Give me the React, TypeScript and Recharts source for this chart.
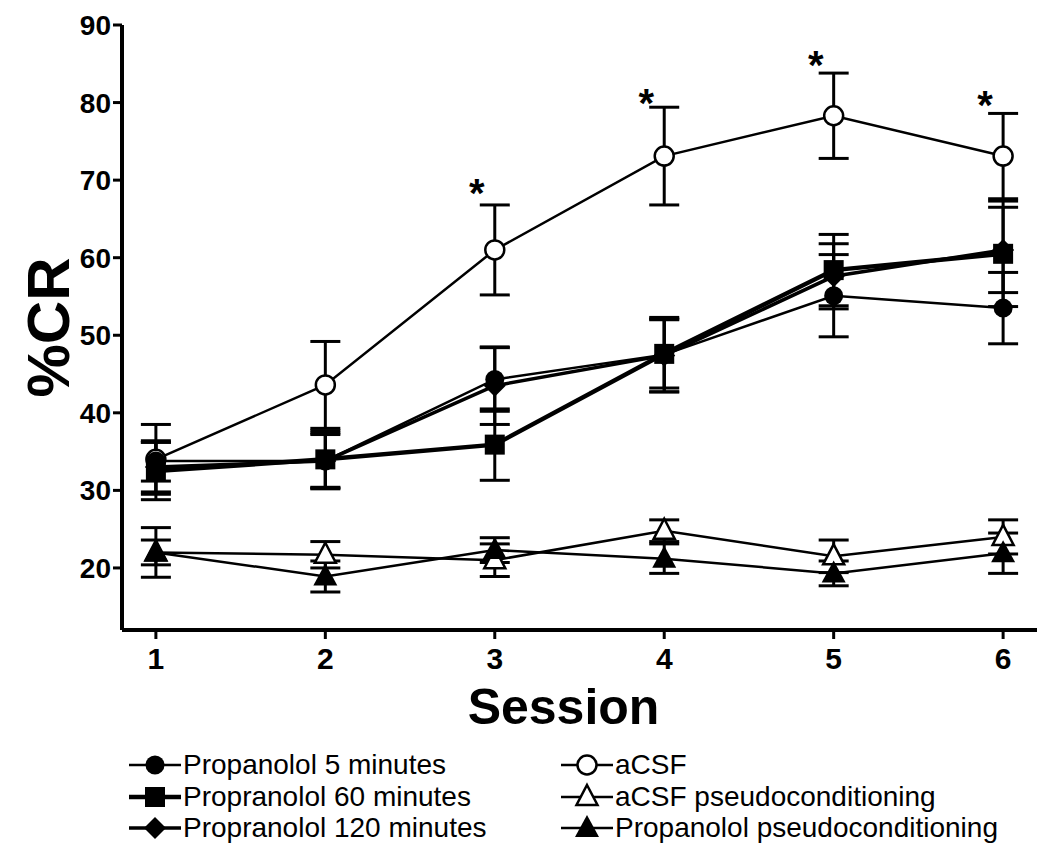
import React from 'react';
import { LineChart, Line, XAxis, YAxis, ErrorBar } from 'recharts';

// sessions on the x axis
const sessions = [1, 2, 3, 4, 5, 6];

// %CR means and error (SEM) per group
const acsf = [34.0, 43.6, 61.0, 73.1, 78.3, 73.1];
const acsfErr = [4.5, 5.6, 5.8, 6.3, 5.5, 5.5];
const prop5 = [33.8, 33.8, 44.3, 47.5, 55.1, 53.5];
const prop5Err = [2.6, 3.6, 4.1, 4.8, 5.3, 4.6];
const prop60 = [32.5, 34.0, 35.9, 47.6, 58.4, 60.5];
const prop60Err = [3.7, 3.7, 4.6, 4.4, 4.6, 6.8];
const prop120 = [33.0, 33.8, 43.5, 47.4, 57.6, 61.0];
const prop120Err = [3.2, 3.4, 5.0, 4.7, 4.2, 5.5];
const acsfPseudo = [22.0, 21.7, 21.0, 24.8, 21.5, 24.0];
const acsfPseudoErr = [1.6, 1.7, 2.1, 1.4, 2.1, 2.2];
const propPseudo = [22.0, 18.9, 22.3, 21.2, 19.3, 21.9];
const propPseudoErr = [3.2, 2.0, 1.6, 1.9, 1.6, 2.6];

// level of the significance asterisks (aCSF vs propranolol)
const starLevel = [null, null, 69.4, 81.0, 85.9, 80.7];

const yTicks = [20, 30, 40, 50, 60, 70, 80, 90];

const data = sessions.map((s, i) => ({
  session: s,
  acsf: acsf[i],
  acsfErr: acsfErr[i],
  prop5: prop5[i],
  prop5Err: prop5Err[i],
  prop60: prop60[i],
  prop60Err: prop60Err[i],
  prop120: prop120[i],
  prop120Err: prop120Err[i],
  acsfPseudo: acsfPseudo[i],
  acsfPseudoErr: acsfPseudoErr[i],
  propPseudo: propPseudo[i],
  propPseudoErr: propPseudoErr[i],
  star: starLevel[i],
}));

const FONT = '"Liberation Sans", Arial, sans-serif';

type Shape = 'circle' | 'openCircle' | 'square' | 'diamond' | 'openTriangle' | 'triangle';

const Marker = ({ shape, cx, cy }: { shape: Shape; cx: number; cy: number }) => {
  switch (shape) {
    case 'circle':
      return <circle cx={cx} cy={cy} r={9.5} fill="#000" />;
    case 'openCircle':
      return <circle cx={cx} cy={cy} r={9.5} fill="#fff" stroke="#000" strokeWidth={2.5} />;
    case 'square':
      return <rect x={cx - 10} y={cy - 10} width={20} height={20} fill="#000" />;
    case 'diamond':
      return <polygon points={`${cx},${cy - 11} ${cx + 11},${cy} ${cx},${cy + 11} ${cx - 11},${cy}`} fill="#000" />;
    case 'openTriangle':
      return (
        <polygon
          points={`${cx},${cy - 12} ${cx + 10.5},${cy + 8} ${cx - 10.5},${cy + 8}`}
          fill="#fff"
          stroke="#000"
          strokeWidth={2.5}
        />
      );
    case 'triangle':
      return <polygon points={`${cx},${cy - 13} ${cx + 12},${cy + 9} ${cx - 12},${cy + 9}`} fill="#000" />;
  }
  return null;
};

const dotFor = (shape: Shape) => (p: any) =>
  p.cx == null || p.cy == null ? (
    <g key={p.index} />
  ) : (
    <g key={p.index}>
      <Marker shape={shape} cx={p.cx} cy={p.cy} />
    </g>
  );

const renderStar = (p: any) =>
  p.value == null || p.cy == null ? (
    <g key={p.index} />
  ) : (
    <text
      key={p.index}
      x={p.cx - 18}
      y={p.cy + 22}
      textAnchor="middle"
      fontFamily={FONT}
      fontWeight="bold"
      fontSize={40}
      fill="#000"
    >
      *
    </text>
  );

const legendItems: { name: string; shape: Shape; line: number }[] = [
  { name: 'Propanolol 5 minutes', shape: 'circle', line: 2.5 },
  { name: 'Propranolol 60 minutes', shape: 'square', line: 4.5 },
  { name: 'Propranolol 120 minutes', shape: 'diamond', line: 3.5 },
  { name: 'aCSF', shape: 'openCircle', line: 2.5 },
  { name: 'aCSF pseudoconditioning', shape: 'openTriangle', line: 2.5 },
  { name: 'Propanolol pseudoconditioning', shape: 'triangle', line: 2.5 },
];

const YLabel = (props: any) => {
  const { viewBox } = props;
  const x = viewBox.x + 40;
  const y = viewBox.y + viewBox.height / 2;
  return (
    <text
      x={x}
      y={y}
      transform={`rotate(-90, ${x}, ${y})`}
      textAnchor="middle"
      dominantBaseline="central"
      fontFamily={FONT}
      fontWeight="bold"
      fontSize={60}
      fill="#000"
    >
      %CR
    </text>
  );
};

const errProps = { stroke: '#000', strokeWidth: 3, width: 15 };

export default function App() {
  return (
    <div style={{ position: 'relative', width: 1042, height: 858, fontFamily: FONT }}>
      <LineChart width={1042} height={858} data={data} margin={{ top: 17, right: 13, left: 0, bottom: 136 }}>
        <XAxis
          dataKey="session"
          type="number"
          domain={[0.8, 6.2]}
          ticks={sessions}
          height={100}
          tickSize={9}
          tickMargin={9}
          axisLine={{ stroke: '#000', strokeWidth: 4 }}
          tickLine={{ stroke: '#000', strokeWidth: 3 }}
          tick={{ fill: '#000', fontSize: 30, fontWeight: 'bold', fontFamily: '"Liberation Sans Narrow", "Liberation Sans", Arial' }}
          label={{
            value: 'Session',
            position: 'insideBottom',
            offset: 6,
            dx: -16,
            fill: '#000',
            fontSize: 50,
            fontWeight: 'bold',
            fontFamily: FONT,
          }}
        />
        <YAxis
          type="number"
          domain={[12, 90]}
          ticks={yTicks}
          width={114}
          tickSize={9}
          tickMargin={2}
          axisLine={{ stroke: '#000', strokeWidth: 4 }}
          tickLine={{ stroke: '#000', strokeWidth: 3 }}
          tick={{ fill: '#000', fontSize: 28, fontWeight: 'bold', fontFamily: FONT }}
          label={<YLabel />}
        />
        <Line dataKey="acsfPseudo" stroke="#000" strokeWidth={2.5} dot={dotFor('openTriangle')} activeDot={false} isAnimationActive={false}>
          <ErrorBar dataKey="acsfPseudoErr" {...errProps} />
        </Line>
        <Line dataKey="propPseudo" stroke="#000" strokeWidth={2.5} dot={dotFor('triangle')} activeDot={false} isAnimationActive={false}>
          <ErrorBar dataKey="propPseudoErr" {...errProps} />
        </Line>
        <Line dataKey="acsf" stroke="#000" strokeWidth={2.5} dot={dotFor('openCircle')} activeDot={false} isAnimationActive={false}>
          <ErrorBar dataKey="acsfErr" {...errProps} />
        </Line>
        <Line dataKey="prop5" stroke="#000" strokeWidth={2.5} dot={dotFor('circle')} activeDot={false} isAnimationActive={false}>
          <ErrorBar dataKey="prop5Err" {...errProps} />
        </Line>
        <Line dataKey="prop120" stroke="#000" strokeWidth={3.5} dot={dotFor('diamond')} activeDot={false} isAnimationActive={false}>
          <ErrorBar dataKey="prop120Err" {...errProps} />
        </Line>
        <Line dataKey="prop60" stroke="#000" strokeWidth={4.5} dot={dotFor('square')} activeDot={false} isAnimationActive={false}>
          <ErrorBar dataKey="prop60Err" {...errProps} />
        </Line>
        <Line dataKey="star" stroke="none" dot={renderStar} activeDot={false} isAnimationActive={false} />
      </LineChart>
      <div style={{ position: 'absolute', top: 742, left: 118, width: 920 }}>
        {legendItems.map((item, i) => (
          <div
            key={item.name}
            style={{
              position: 'absolute',
              left: i < 3 ? 0 : 432,
              top: (i % 3) * 31.5,
              height: 30,
              display: 'flex',
              alignItems: 'center',
              whiteSpace: 'nowrap',
            }}
          >
            <svg width={57} height={30} style={{ flex: 'none' }}>
              <line x1={3} y1={15} x2={55} y2={15} stroke="#000" strokeWidth={item.line} />
              <Marker shape={item.shape} cx={29} cy={15} />
            </svg>
            <span style={{ fontSize: 28, color: '#000', lineHeight: '30px' }}>{item.name}</span>
          </div>
        ))}
      </div>
    </div>
  );
}
